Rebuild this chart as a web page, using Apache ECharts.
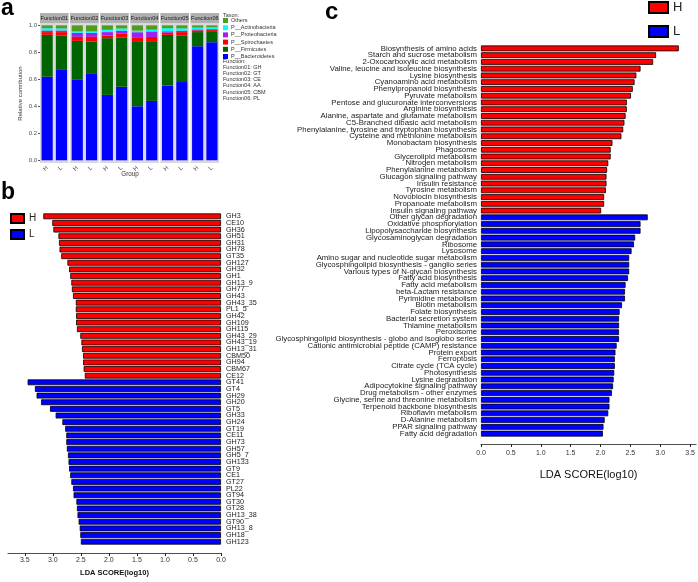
<!DOCTYPE html>
<html>
<head>
<meta charset="utf-8">
<script src="https://cdn.jsdelivr.net/npm/echarts@6/dist/echarts.min.js"></script>
<style>
  html, body { margin: 0; padding: 0; background: #fff; }
  #main { width: 698px; height: 582px; }
</style>
</head>
<body>
<div id="main"></div>
<script>
// ---- panel a : relative contribution ----
var functions = ['Function01', 'Function02', 'Function03', 'Function04', 'Function05', 'Function06'];
var funcCodes = ['GH', 'GT', 'CE', 'AA', 'CBM', 'PL'];
var groups = ['H', 'L'];
// values per facet: F01 H, F01 L, F02 H, F02 L ...
var bacteroidetes  = [0.62, 0.675, 0.60, 0.64, 0.485, 0.545, 0.40, 0.44, 0.555, 0.58, 0.845, 0.875];
var firmicutes     = [0.31, 0.25, 0.285, 0.24, 0.42, 0.365, 0.477, 0.437, 0.375, 0.345, 0.105, 0.082];
var spirochaetes   = [0.02, 0.025, 0.03, 0.035, 0.02, 0.03, 0.03, 0.037, 0.016, 0.025, 0.013, 0.008];
var proteobacteria = [0.012, 0.012, 0.03, 0.03, 0.025, 0.02, 0.042, 0.041, 0.01, 0.01, 0.007, 0.007];
var actinobacteria = [0.017, 0.015, 0.01, 0.01, 0.017, 0.017, 0.012, 0.013, 0.023, 0.018, 0.013, 0.013];
var others         = [0.021, 0.023, 0.045, 0.045, 0.033, 0.023, 0.039, 0.032, 0.021, 0.022, 0.017, 0.015];
var aTicks = [0, 0.2, 0.4, 0.6, 0.8, 1.0];

// ---- panel b : CAZy LDA ----
var bCatsH = ['GH3', 'CE10', 'GH36', 'GH51', 'GH31', 'GH78', 'GT35', 'GH127', 'GH32', 'GH1', 'GH13_9', 'GH77', 'GH43',
  'GH43_35', 'PL1_5', 'GH42', 'GH109', 'GH115', 'GH43_29', 'GH43_19', 'GH13_31', 'CBM50', 'GH94', 'CBM67', 'CE12'];
var bScoresH = [3.17, 3.01, 2.99, 2.90, 2.89, 2.88, 2.85, 2.74, 2.71, 2.69, 2.67, 2.66, 2.64,
  2.59, 2.59, 2.585, 2.585, 2.57, 2.51, 2.49, 2.48, 2.46, 2.46, 2.45, 2.43];
var bCatsL = ['GT41', 'GT4', 'GH29', 'GH20', 'GT5', 'GH33', 'GH24', 'GT19', 'CE11', 'GH73', 'GH57', 'GH5_7', 'GH133',
  'GT9', 'CE1', 'GT27', 'PL22', 'GT94', 'GT30', 'GT28', 'GH13_38', 'GT90', 'GH13_8', 'GH18', 'GH123'];
var bScoresL = [3.45, 3.32, 3.29, 3.21, 3.05, 2.95, 2.83, 2.78, 2.76, 2.76, 2.75, 2.73, 2.72,
  2.71, 2.69, 2.67, 2.64, 2.63, 2.58, 2.57, 2.56, 2.54, 2.52, 2.51, 2.50];

// ---- panel c : KEGG pathway LDA ----
var cCatsH = ['Biosynthesis of amino acids', 'Starch and sucrose metabolism', '2-Oxocarboxylic acid metabolism',
  'Valine, leucine and isoleucine biosynthesis', 'Lysine biosynthesis', 'Cyanoamino acid metabolism',
  'Phenylpropanoid biosynthesis', 'Pyruvate metabolism', 'Pentose and glucuronate interconversions',
  'Arginine biosynthesis', 'Alanine, aspartate and glutamate metabolism', 'C5-Branched dibasic acid metabolism',
  'Phenylalanine, tyrosine and tryptophan biosynthesis', 'Cysteine and methionine metabolism',
  'Monobactam biosynthesis', 'Phagosome', 'Glycerolipid metabolism', 'Nitrogen metabolism',
  'Phenylalanine metabolism', 'Glucagon signaling pathway', 'Insulin resistance', 'Tyrosine metabolism',
  'Novobiocin biosynthesis', 'Propanoate metabolism', 'Insulin signaling pathway'];
var cScoresH = [3.31, 2.93, 2.88, 2.67, 2.60, 2.57, 2.54, 2.51, 2.44, 2.44, 2.42, 2.40, 2.38, 2.35,
  2.20, 2.17, 2.17, 2.13, 2.11, 2.10, 2.10, 2.09, 2.06, 2.06, 2.01];
var cCatsL = ['Other glycan degradation', 'Oxidative phosphorylation', 'Lipopolysaccharide biosynthesis',
  'Glycosaminoglycan degradation', 'Ribosome', 'Lysosome', 'Amino sugar and nucleotide sugar metabolism',
  'Glycosphingolipid biosynthesis - ganglio series', 'Various types of N-glycan biosynthesis',
  'Fatty acid biosynthesis', 'Fatty acid metabolism', 'beta-Lactam resistance', 'Pyrimidine metabolism',
  'Biotin metabolism', 'Folate biosynthesis', 'Bacterial secretion system', 'Thiamine metabolism', 'Peroxisome',
  'Glycosphingolipid biosynthesis - globo and isoglobo series', 'Cationic antimicrobial peptide (CAMP) resistance',
  'Protein export', 'Ferroptosis', 'Citrate cycle (TCA cycle)', 'Photosynthesis', 'Lysine degradation',
  'Adipocytokine signaling pathway', 'Drug metabolism - other enzymes', 'Glycine, serine and threonine metabolism',
  'Terpenoid backbone biosynthesis', 'Riboflavin metabolism', 'D-Alanine metabolism', 'PPAR signaling pathway',
  'Fatty acid degradation'];
var cScoresL = [2.79, 2.67, 2.67, 2.58, 2.56, 2.52, 2.48, 2.48, 2.48, 2.46, 2.42, 2.41, 2.41, 2.36, 2.32, 2.31,
  2.31, 2.31, 2.31, 2.27, 2.25, 2.24, 2.24, 2.23, 2.22, 2.21, 2.19, 2.15, 2.15, 2.13, 2.07, 2.05, 2.04];
var ldaTicks = [0, 0.5, 1.0, 1.5, 2.0, 2.5, 3.0, 3.5];

var FONT = 'Liberation Sans';
var myChart = echarts.init(document.getElementById('main'));

var taxa = [
  {name: 'P__Bacteroidetes', data: bacteroidetes, color: '#0000ff'},
  {name: 'P__Firmicutes', data: firmicutes, color: '#006400'},
  {name: 'P__Spirochaetes', data: spirochaetes, color: '#ff0000'},
  {name: 'P__Proteobacteria', data: proteobacteria, color: '#a020f0'},
  {name: 'P__Actinobacteria', data: actinobacteria, color: '#00ffff'},
  {name: 'Others', data: others, color: '#4f9d1e'}
];

var grids = [], xAxes = [], yAxes = [], series = [], graphics = [];

// panel a facets
functions.forEach(function (f, i) {
  var left = 40 + i * 30.1;
  grids.push({left: left, top: 24, width: 28.6, height: 139, show: true, backgroundColor: '#d9d9d9', borderWidth: 0});
  xAxes.push({
    type: 'category', gridIndex: i, data: groups,
    axisLine: {show: false}, axisTick: {length: 2, lineStyle: {color: '#555'}},
    axisLabel: {rotate: 45, fontSize: 6, color: '#4d4d4d', margin: 4, fontFamily: FONT}
  });
  yAxes.push({
    type: 'value', gridIndex: i, min: -0.02, max: 1.01,
    name: i === 0 ? 'Relative contribution' : '', nameLocation: 'middle', nameGap: 17,
    nameTextStyle: {fontSize: 6, color: '#333', fontFamily: FONT},
    splitLine: {show: false}, axisLine: {show: false},
    axisTick: {show: i === 0, length: 2, customValues: aTicks, lineStyle: {color: '#555'}},
    axisLabel: {show: i === 0, customValues: aTicks, fontSize: 6, color: '#4d4d4d', margin: 3, fontFamily: FONT,
      formatter: function (v) { return v.toFixed(1); }}
  });
  taxa.forEach(function (t) {
    series.push({
      name: t.name, type: 'bar', stack: 'f' + i, xAxisIndex: i, yAxisIndex: i,
      data: [t.data[i * 2], t.data[i * 2 + 1]],
      barCategoryGap: '22%', itemStyle: {color: t.color}, silent: true
    });
  });
  graphics.push({type: 'rect', shape: {x: left, y: 13, width: 28.6, height: 10.5}, style: {fill: '#b0b0b0'}});
  graphics.push({type: 'text', style: {text: f, x: left + 14.3, y: 18.5, align: 'center', verticalAlign: 'middle',
    font: '5.6px "' + FONT + '"', fill: '#1a1a1a'}});
});

// panel b
var bCats = bCatsH.concat(bCatsL);
var bi = grids.length;
grids.push({left: 8, top: 213, width: 213, height: 341});
xAxes.push({
  type: 'value', gridIndex: bi, inverse: true, min: 0, max: 3.8, offset: 8,
  name: 'LDA SCORE(log10)', nameLocation: 'middle', nameGap: 16,
  nameTextStyle: {fontSize: 7.5, fontWeight: 'bold', color: '#111', fontFamily: FONT},
  splitLine: {show: false}, axisLine: {show: true, lineStyle: {color: '#222', width: 0.8}},
  axisTick: {show: true, customValues: ldaTicks, length: 3, lineStyle: {color: '#222'}},
  axisLabel: {customValues: ldaTicks, fontSize: 7, color: '#333', margin: 4, fontFamily: FONT,
    formatter: function (v) { return v.toFixed(1); }}
});
yAxes.push({
  type: 'category', gridIndex: bi, data: bCats, inverse: true, position: 'right',
  axisLine: {show: false}, axisTick: {show: false},
  axisLabel: {interval: 0, fontSize: 7.2, color: '#222', margin: 5, fontFamily: FONT, lineHeight: 7}
});
series.push({
  name: 'H', type: 'bar', xAxisIndex: bi, yAxisIndex: bi, barGap: '-100%', barCategoryGap: '12%',
  data: bScoresH.concat(bCatsL.map(function () { return '-'; })),
  itemStyle: {color: '#ff0000', borderColor: '#000', borderWidth: 0.8}, silent: true
});
series.push({
  name: 'L', type: 'bar', xAxisIndex: bi, yAxisIndex: bi, barGap: '-100%', barCategoryGap: '12%',
  data: bCatsH.map(function () { return '-'; }).concat(bScoresL),
  itemStyle: {color: '#0000ff', borderColor: '#000', borderWidth: 0.8}, silent: true
});

// panel c
var cCats = cCatsH.concat(cCatsL);
var ci = grids.length;
grids.push({left: 481, top: 45, width: 216, height: 392});
xAxes.push({
  type: 'value', gridIndex: ci, min: 0, max: 3.6, offset: 7,
  name: 'LDA SCORE(log10)', nameLocation: 'middle', nameGap: 25,
  nameTextStyle: {fontSize: 11, color: '#111', fontFamily: FONT},
  splitLine: {show: false}, axisLine: {show: true, lineStyle: {color: '#222', width: 0.8}},
  axisTick: {show: true, customValues: ldaTicks, length: 3, lineStyle: {color: '#222'}},
  axisLabel: {customValues: ldaTicks, fontSize: 7, color: '#333', margin: 6, fontFamily: FONT,
    formatter: function (v) { return v.toFixed(1); }}
});
yAxes.push({
  type: 'category', gridIndex: ci, data: cCats, inverse: true,
  axisLine: {show: false}, axisTick: {show: false},
  axisLabel: {interval: 0, fontSize: 7.8, color: '#222', margin: 4, fontFamily: FONT, lineHeight: 7}
});
series.push({
  name: 'H', type: 'bar', xAxisIndex: ci, yAxisIndex: ci, barGap: '-100%', barCategoryGap: '14%',
  data: cScoresH.concat(cCatsL.map(function () { return '-'; })),
  itemStyle: {color: '#ff0000', borderColor: '#000', borderWidth: 0.8}, silent: true
});
series.push({
  name: 'L', type: 'bar', xAxisIndex: ci, yAxisIndex: ci, barGap: '-100%', barCategoryGap: '14%',
  data: cCatsH.map(function () { return '-'; }).concat(cScoresL),
  itemStyle: {color: '#0000ff', borderColor: '#000', borderWidth: 0.8}, silent: true
});

// texts
graphics.push({type: 'text', style: {text: 'a', x: 1, y: 9, verticalAlign: 'middle', font: 'bold 23px "' + FONT + '"', fill: '#000'}});
graphics.push({type: 'text', style: {text: 'b', x: 1, y: 193, verticalAlign: 'middle', font: 'bold 23px "' + FONT + '"', fill: '#000'}});
graphics.push({type: 'text', style: {text: 'c', x: 325, y: 12, verticalAlign: 'middle', font: 'bold 24px "' + FONT + '"', fill: '#000'}});
graphics.push({type: 'text', style: {text: 'Group', x: 130, y: 174, align: 'center', verticalAlign: 'middle',
  font: '6.3px "' + FONT + '"', fill: '#333'}});
graphics.push({type: 'text', style: {text: 'Taxon:', x: 223, y: 15, verticalAlign: 'middle', font: '5.5px "' + FONT + '"', fill: '#333'}});
graphics.push({type: 'text', style: {
  text: ['Function:'].concat(functions.map(function (f, k) { return f + ': ' + funcCodes[k]; })).join('\n'),
  x: 223, y: 58, lineHeight: 6.2, font: '5.5px "' + FONT + '"', fill: '#333'}});

var option = {
  animation: false,
  backgroundColor: '#fff',
  textStyle: {fontFamily: FONT},
  legend: [
    {
      data: ['Others', 'P__Actinobacteria', 'P__Proteobacteria', 'P__Spirochaetes', 'P__Firmicutes', 'P__Bacteroidetes'],
      orient: 'vertical', left: 223, top: 17.5, itemWidth: 5, itemHeight: 5, itemGap: 1.2, icon: 'rect',
      padding: 0, selectedMode: false, textStyle: {fontSize: 5.5, color: '#333', padding: [0, 0, 0, -2]}
    },
    {
      data: ['H', 'L'], orient: 'vertical', left: 10, top: 213, itemWidth: 13, itemHeight: 9, itemGap: 5,
      icon: 'rect', padding: 0, selectedMode: false, textStyle: {fontSize: 10, color: '#222'}
    },
    {
      data: ['H', 'L'], orient: 'vertical', left: 648, top: 1, itemWidth: 19, itemHeight: 11, itemGap: 11,
      icon: 'rect', padding: 0, selectedMode: false, textStyle: {fontSize: 13, color: '#222'}
    }
  ],
  grid: grids,
  xAxis: xAxes,
  yAxis: yAxes,
  series: series,
  graphic: graphics
};
myChart.setOption(option);
</script>
</body>
</html>
